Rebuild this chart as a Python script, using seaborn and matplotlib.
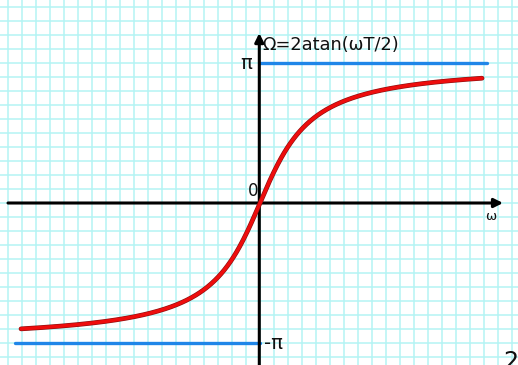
import numpy as np
import pandas as pd
import matplotlib
matplotlib.use("Agg")
import matplotlib.pyplot as plt
import seaborn as sns

# Sampling interval and frequency range of the warped curve
T = 0.732
omega_min, omega_max = -17.07, 15.86
omega = np.linspace(omega_min, omega_max, 600)
Omega = 2 * np.arctan(omega * T / 2)

# Asymptote segments at +pi and -pi
upper_x = [0.0, 16.2]
lower_x = [-17.5, 0.0]

# Grid and view extents
x_grid = np.arange(-18, 19, 1)
y_grid = np.arange(-11, 15, 1) * np.pi / 10
x_range = (-260 / 14, 258 / 14)
y_range = (-1.1571 * np.pi, 1.45 * np.pi)

sns.set_theme(style="white")
plt.rcParams["font.family"] = ["DejaVu Sans"]

fig = plt.figure(figsize=(5.18, 3.65), dpi=100)
ax = fig.add_axes([0, 0, 1, 1])
ax.set_xlim(*x_range)
ax.set_ylim(*y_range)
for s in ax.spines.values():
    s.set_visible(False)
ax.set_xticks([])
ax.set_yticks([])

grid_color = "#b4f4f4"
for gx in x_grid:
    ax.axvline(gx, color=grid_color, lw=1.1, zorder=0)
for gy in y_grid:
    ax.axhline(gy, color=grid_color, lw=1.1, zorder=0)

# Coordinate axes with arrow heads
arrow_kw = dict(arrowstyle="-|>", lw=2.2, color="black", mutation_scale=13,
                shrinkA=0, shrinkB=0)
ax.annotate("", xy=(17.36, 0), xytext=(-18.0, 0), arrowprops=arrow_kw, zorder=3)
ax.annotate("", xy=(-0.05, 12.14 * np.pi / 10), xytext=(-0.05, -1.3 * np.pi),
            arrowprops=arrow_kw, zorder=3)

# Asymptotes
df_up = pd.DataFrame({"x": upper_x, "y": [np.pi, np.pi]})
df_lo = pd.DataFrame({"x": lower_x, "y": [-np.pi, -np.pi]})
sns.lineplot(data=df_up, x="x", y="y", ax=ax, color="#1f86e8", lw=2.4, zorder=2)
sns.lineplot(data=df_lo, x="x", y="y", ax=ax, color="#1f86e8", lw=2.4, zorder=2)

# Warped frequency curve
df_curve = pd.DataFrame({"omega": omega, "Omega": Omega})
sns.lineplot(data=df_curve, x="omega", y="Omega", ax=ax, color="#8a1010",
             lw=3.4, zorder=4, sort=False)
sns.lineplot(data=df_curve, x="omega", y="Omega", ax=ax, color="#ee0d0d",
             lw=2.5, zorder=5, sort=False)

ax.set_xlabel("")
ax.set_ylabel("")

ax.text(0.15, 1.093 * np.pi, "Ω=2atan(ωT/2)", fontsize=12.8, color="#111111",
        ha="left", va="baseline")
ax.text(-0.55, np.pi, "π", fontsize=14, ha="right", va="center", color="#111111")
ax.text(0.25, -np.pi, "-π", fontsize=14, ha="left", va="center", color="#111111")
ax.text(-0.15, 0.02 * np.pi, "0", fontsize=12, ha="right", va="bottom", color="#111111")
ax.text(16.5, -0.05 * np.pi, "ω", fontsize=9.5, ha="center", va="top", color="#111111")
ax.text(17.9, -1.187 * np.pi, "2", fontsize=17, ha="center", va="baseline", color="#111111")

fig.savefig("out.png", dpi=100)
